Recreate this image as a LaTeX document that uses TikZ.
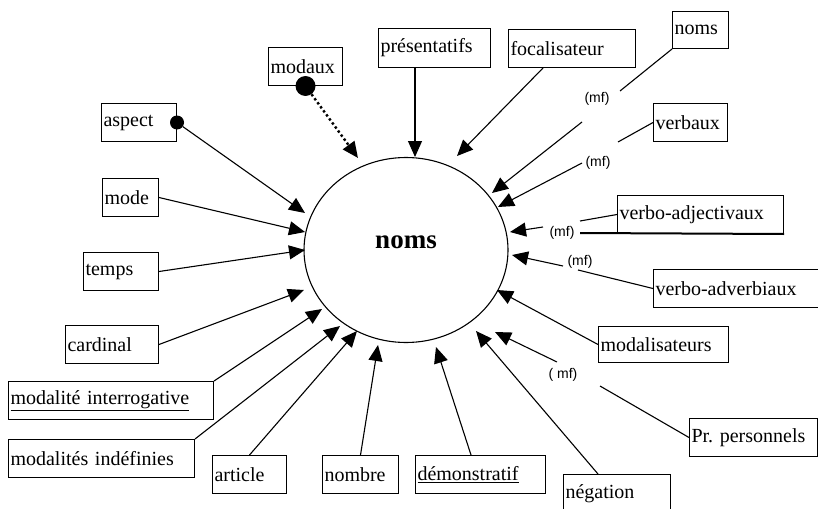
\documentclass[tikz,border=0pt]{standalone}
\usepackage{fontspec}
\setmainfont{Liberation Serif}
\newfontfamily\mffont{Liberation Sans}
\usetikzlibrary{arrows.meta,shapes.geometric}
\frenchspacing

\begin{document}
\begin{tikzpicture}[x=1pt,y=-1pt,
    box/.style={draw,line width=1pt,anchor=north west,align=left,inner xsep=2pt,inner ysep=0pt,
        minimum height=38pt,font=\fontsize{20}{22}\selectfont},
    link/.style={line width=1.1pt},
    arr/.style={link,-{Triangle[length=16pt,width=14pt]}},
    blob/.style={circle,fill,inner sep=0pt,minimum size=#1},
    mf/.style={font=\mffont\fontsize{14}{15}\selectfont,inner sep=1pt}]
    \useasboundingbox (0,0) rectangle (818,508);
    % centre
    \path (406,250) node [draw,ellipse,line width=1.1pt,minimum width=204pt,minimum height=185pt,inner sep=0pt,
        label={[font=\bfseries\fontsize{27}{30}\selectfont,yshift=8pt]center:noms}] (noms) {};
    % boxes, left side and bottom
    \path (268, 47) node [box,text width=70pt] (modaux) {modaux};
    \path (101,103) node [box,text width=71pt] (aspect) {aspect};
    \path (102,178) node [box,text width=52pt] (mode) {mode};
    \path ( 83,252) node [box,text width=71pt] (temps) {temps};
    \path ( 65,325) node [box,text width=89pt] (cardinal) {cardinal};
    \path (  8,381) node [box,text width=201pt] (interrog) {\underline{modalité interrogative}};
    \path (  8,439) node [box,text width=182pt] (indef) {modalités indéfinies};
    \path (212,455) node [box,text width=70pt] (article) {article};
    \path (322,455) node [box,text width=72pt] (nombre) {nombre};
    \path (415,455) node [box,text width=126pt] (demonstr) {\underline{démonstratif}};
    \path (563,474) node [box,text width=103pt] (negation) {négation};
    % boxes, right side and top
    \path (689,418) node [box,text width=124pt] (perso) {Pr. personnels};
    \path (598,326) node [box,text width=126pt,minimum height=36pt] (modalis) {modalisateurs};
    \path (653,269) node [box,text width=161pt] (verbadv) {verbo-adverbiaux};
    \path (617,195) node [box,text width=162pt] (verbadj) {verbo-adjectivaux};
    \path (653,103) node [box,text width=70pt] (verbaux) {verbaux};
    \path (672, 11) node [box,text width=52pt,minimum height=37pt] (nomsbox) {noms};
    \path (378, 28) node [box,text width=108pt,minimum height=39pt] (present) {présentatifs};
    \path (508, 29) node [box,text width=123pt] (focal) {focalisateur};
    % dots
    \path (modaux.south) node [blob=20pt] (modauxdot) {};
    \path (aspect.east) node [blob=14pt] (aspectdot) {};
    % (mf) labels
    \path (597, 99) node [mf] (mfnoms) {(mf)};
    \path (598,163) node [mf] (mfverbaux) {(mf)};
    \path (562,233) node [mf] (mfverbadj) {(mf)};
    \path (580,262) node [mf] (mfverbadv) {(mf)};
    \path (563,375) node [mf] (mfperso) {( mf)};
    % ends on the circle
    \coordinate (modaux-tip) at (358,158);
    \coordinate (aspect-tip) at (305,213);
    \coordinate (mode-tip) at (305,232);
    \coordinate (temps-tip) at (305,250);
    \coordinate (cardinal-tip) at (304,290);
    \coordinate (interrog-tip) at (322,309);
    \coordinate (indef-tip) at (340,326);
    \coordinate (article-tip) at (357,331);
    \coordinate (nombre-tip) at (378,345);
    \coordinate (demonstr-tip) at (436,347);
    \coordinate (negation-tip) at (476,331);
    \coordinate (perso-tip) at (495,332);
    \coordinate (modalis-tip) at (497,290);
    \coordinate (verbadv-tip) at (512,255);
    \coordinate (verbadj-tip) at (510,232);
    \coordinate (verbaux-tip) at (498,207);
    \coordinate (nomsbox-tip) at (492,193);
    \coordinate (focal-tip) at (457,156);
    \coordinate (present-tip) at (415,157);
    % free ends near the (mf) labels
    \coordinate (nomsbox-end) at (620, 91);
    \coordinate (nomsbox-start) at (582,122);
    \coordinate (verbaux-end) at (618,142);
    \coordinate (verbaux-start) at (582,163);
    \coordinate (verbadj-end) at (580,221);
    \coordinate (verbadj-start) at (543,227);
    \coordinate (verbadj-rule) at (580,233);
    \coordinate (verbadv-end) at (578,270);
    \coordinate (verbadv-start) at (563,266);
    \coordinate (perso-end) at (600,386);
    \coordinate (perso-start) at (557,362);
    % connectors
    \draw [arr,line width=2.4pt,dash pattern=on 2.4pt off 2.6pt] (modauxdot) -- (modaux-tip);
    \draw [arr] (aspectdot) -- (aspect-tip);
    \draw [arr] (mode.east) -- (mode-tip);
    \draw [arr] (temps.east) -- (temps-tip);
    \draw [arr] (cardinal.east) -- (cardinal-tip);
    \draw [arr] (interrog.north east) -- (interrog-tip);
    \draw [arr] (indef.north east) -- (indef-tip);
    \draw [arr] (article.north) -- (article-tip);
    \draw [arr] (nombre.north) -- (nombre-tip);
    \draw [arr] ([xshift=56pt]demonstr.north west) -- (demonstr-tip);
    \draw [arr] ([xshift=35pt]negation.north west) -- (negation-tip);
    \draw [link] (perso.west) -- (perso-end);
    \draw [arr] (perso-start) -- (perso-tip);
    \draw [arr] (modalis.west) -- (modalis-tip);
    \draw [link] (verbadv.west) -- (verbadv-end);
    \draw [arr] (verbadv-start) -- (verbadv-tip);
    \draw [link] (verbadj.west) -- (verbadj-end);
    \draw [line width=2pt] (verbadj-rule) -- (verbadj.south east);
    \draw [arr] (verbadj-start) -- (verbadj-tip);
    \draw [link] (verbaux.west) -- (verbaux-end);
    \draw [arr] (verbaux-start) -- (verbaux-tip);
    \draw [link] (nomsbox.south west) -- (nomsbox-end);
    \draw [arr] (nomsbox-start) -- (nomsbox-tip);
    \draw [arr] ([xshift=35pt]focal.south west) -- (focal-tip);
    \draw [arr] ([xshift=37pt]present.south west) -- (present-tip);
\end{tikzpicture}
\end{document}
